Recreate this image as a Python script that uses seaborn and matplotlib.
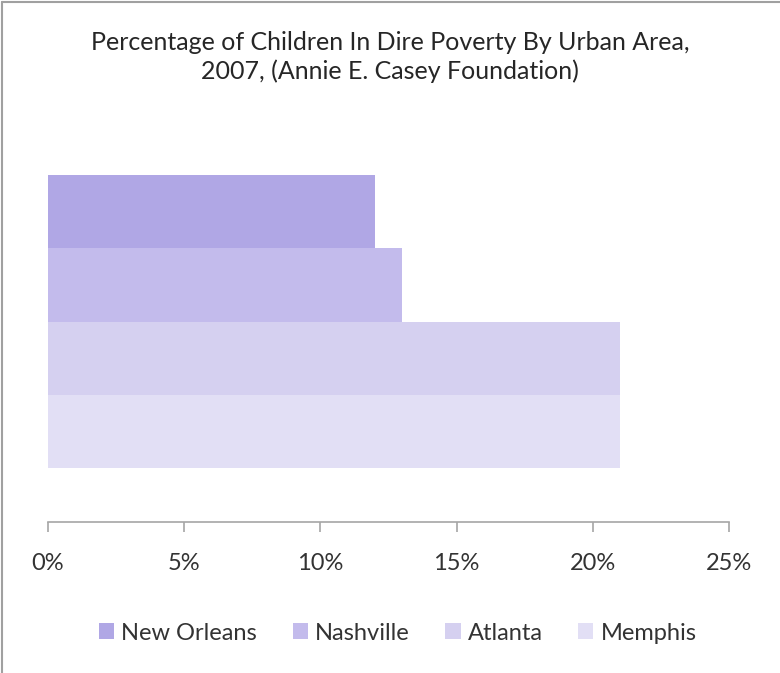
import matplotlib
matplotlib.use("Agg")
import matplotlib.pyplot as plt
import seaborn as sns
import pandas as pd
from matplotlib.ticker import FuncFormatter, MultipleLocator
from matplotlib.patches import Rectangle

cities = ["New Orleans", "Nashville", "Atlanta", "Memphis"]
values = [0.12, 0.13, 0.21, 0.21]
colors = ["#B0A7E5", "#C3BBEC", "#D5D0F0", "#E2DFF5"]
title = "Percentage of Children In Dire Poverty By Urban Area,\n2007, (Annie E. Casey Foundation)"

df = pd.DataFrame({"cat": ["All"] * len(cities), "city": cities, "value": values})

sns.set_theme(style="white")
plt.rcParams["font.family"] = ["Lato", "DejaVu Sans"]

fig = plt.figure(figsize=(7.8, 6.73), dpi=100)
ax = fig.add_axes([48 / 780, 1 - 522 / 673, (729 - 48) / 780, (522 - 121) / 673])

sns.barplot(data=df, x="value", y="cat", hue="city", hue_order=cities,
            palette=colors, orient="h", width=0.73, linewidth=0, saturation=1,
            ax=ax, legend=True)

ax.set_xlim(0, 0.25)
ax.set_ylim(0.5, -0.5)
ax.xaxis.set_major_locator(MultipleLocator(0.05))
ax.xaxis.set_major_formatter(FuncFormatter(lambda v, p: f"{v*100:.0f}%"))
ax.set_yticks([])
ax.set_xlabel("")
ax.set_ylabel("")
for s in ["top", "right", "left"]:
    ax.spines[s].set_visible(False)
ax.spines["bottom"].set_color("#A6A6A6")
ax.spines["bottom"].set_linewidth(1.2)
ax.tick_params(axis="x", direction="out", length=7, width=1.2, color="#A6A6A6",
               pad=15, labelsize=17, labelcolor="#333333", bottom=True)

ax.get_legend().remove()
handles = [Rectangle((0, 0), 1, 1, facecolor=c, edgecolor="none") for c in colors]
fig.legend(handles, cities, loc="center", bbox_to_anchor=(0.51, 1 - 633 / 673),
           ncol=4, frameon=False, fontsize=17, handlelength=0.65, handleheight=0.65,
           handletextpad=0.3, columnspacing=1.5, labelcolor="#333333")

fig.text(0.5, 1 - 57 / 673, title, ha="center", va="center", fontsize=18,
         color="#262626", linespacing=1.25)

# figure frame (left and top edges)
fig.add_artist(plt.Line2D([2 / 780, 2 / 780], [0, 1 - 2 / 673], transform=fig.transFigure,
                          color="#A0A0A0", linewidth=1.5))
fig.add_artist(plt.Line2D([2 / 780, 1], [1 - 2 / 673, 1 - 2 / 673], transform=fig.transFigure,
                          color="#A0A0A0", linewidth=1.5))

fig.savefig("out.png", dpi=100)
